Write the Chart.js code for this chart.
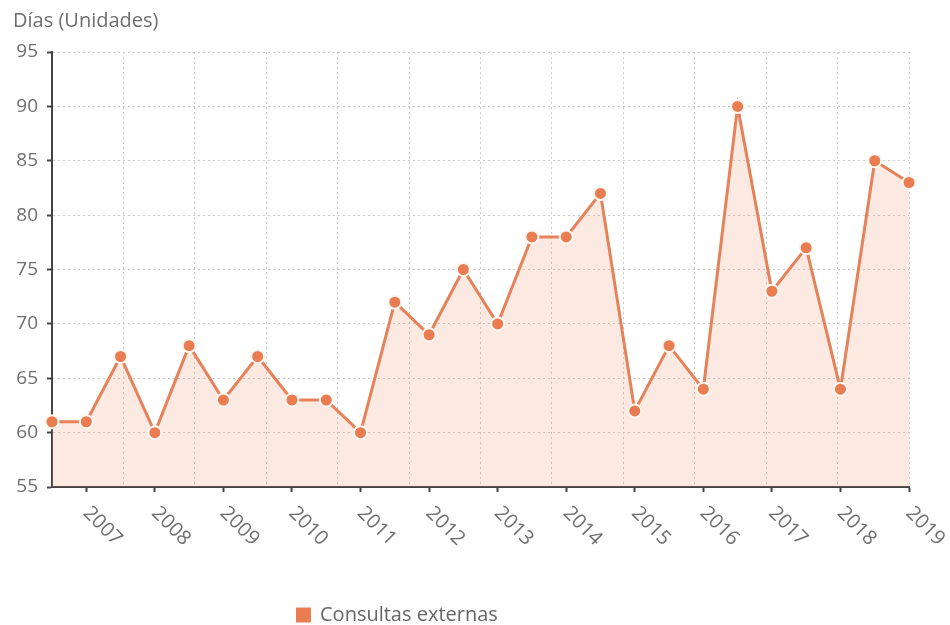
<!DOCTYPE html>
<html>
<head>
<meta charset="utf-8">
<script src="https://cdn.jsdelivr.net/npm/chart.js@4.4.1/dist/chart.umd.min.js"></script>
<style>
  html, body { margin: 0; padding: 0; background: #ffffff; }
  #wrap { width: 950px; height: 625px; position: relative; }
</style>
</head>
<body>
<div id="wrap"><canvas id="c" width="950" height="625"></canvas></div>
<script>
// ---- Data ----
const categories = ['', '2007', '', '2008', '', '2009', '', '2010', '', '2011', '', '2012', '', '2013',
                    '', '2014', '', '2015', '', '2016', '', '2017', '', '2018', '', '2019'];
const seriesLabel = 'Consultas externas';
const seriesValues = [61, 61, 67, 60, 68, 63, 67, 63, 63, 60, 72, 69, 75, 70, 78, 78, 82, 62, 68, 64, 90, 73, 77, 64, 85, 83];
const yTitle = 'Días (Unidades)';
const yMin = 55, yMax = 95, yStep = 5;

const FONT = "'Open Sans', 'Noto Sans', sans-serif";
const TEXT_GRAY = '#6e6e6e';
const LINE_COLOR = '#e6825a';

// Draw rotated x labels (+45deg, going down-right from the tick)
const xLabelPlugin = {
  id: 'xLabels',
  afterDraw(chart) {
    const scale = chart.scales.x;
    const ctx = chart.ctx;
    ctx.save();
    ctx.font = '20px ' + FONT;
    ctx.fillStyle = TEXT_GRAY;
    ctx.textAlign = 'left';
    ctx.textBaseline = 'middle';
    scale.ticks.forEach((t, i) => {
      const lab = chart.data.labels[i];
      if (!lab) return;
      const x = scale.getPixelForTick(i);
      const y = scale.top + 23;
      ctx.save();
      ctx.translate(x, y);
      ctx.rotate(Math.PI / 4);
      ctx.fillText(lab, 0, 0);
      ctx.restore();
    });
    ctx.restore();
  }
};

// Legend drawn below the plot
const legendPlugin = {
  id: 'customLegend',
  afterDraw(chart) {
    const ctx = chart.ctx;
    const ds = chart.data.datasets[0];
    const cy = 615;
    const bx = 296;
    ctx.save();
    ctx.fillStyle = ds.pointBackgroundColor;
    ctx.fillRect(bx, cy - 7.5, 15, 15);
    ctx.font = '20px ' + FONT;
    ctx.fillStyle = '#666666';
    ctx.textAlign = 'left';
    ctx.textBaseline = 'middle';
    ctx.fillText(ds.label, bx + 24, cy);
    ctx.restore();
  }
};

new Chart(document.getElementById('c'), {
  type: 'line',
  data: {
    labels: categories,
    datasets: [{
      label: seriesLabel,
      data: seriesValues,
      borderColor: LINE_COLOR,
      borderWidth: 3,
      backgroundColor: 'rgba(240, 140, 100, 0.19)',
      fill: 'start',
      tension: 0,
      pointRadius: 6.5,
      pointHoverRadius: 6.5,
      pointBackgroundColor: '#ea7c52',
      pointBorderColor: '#fff6f0',
      pointBorderWidth: 2,
      clip: false
    }]
  },
  options: {
    responsive: false,
    animation: false,
    devicePixelRatio: 1,
    layout: { padding: { left: 13, right: 41, top: 0, bottom: 133 } },
    plugins: {
      legend: { display: false },
      tooltip: { enabled: false },
      title: {
        display: true,
        text: yTitle,
        align: 'start',
        color: TEXT_GRAY,
        font: { family: FONT, size: 20, weight: 'normal' },
        padding: { top: 9, bottom: 19 }
      }
    },
    scales: {
      x: {
        type: 'category',
        position: 'bottom',
        offset: false,
        ticks: { display: false },
        grid: {
          drawOnChartArea: false,
          drawTicks: true,
          tickLength: 5,
          tickWidth: 2,
          tickColor: (ctx) => (categories[ctx.index] ? '#444444' : 'rgba(0,0,0,0)')
        },
        border: { display: true, color: '#444444', width: 2 }
      },
      x2: {
        type: 'linear',
        position: 'bottom',
        min: 0,
        max: 12,
        ticks: { display: false, stepSize: 1 },
        grid: { color: '#cacaca', lineWidth: 1, drawTicks: false },
        border: { display: false, dash: [2, 3] }
      },
      y: {
        min: yMin,
        max: yMax,
        ticks: {
          stepSize: yStep,
          color: TEXT_GRAY,
          font: { family: FONT, size: 19 },
          padding: 9
        },
        afterFit: (s) => { s.width = 39; },
        grid: {
          color: '#cacaca',
          lineWidth: 1,
          tickLength: 5,
          tickColor: '#444444',
          tickWidth: 2,
          tickBorderDash: []
        },
        border: { display: true, color: '#444444', width: 2, dash: [2, 3] }
      }
    }
  },
  plugins: [xLabelPlugin, legendPlugin]
});
</script>
</body>
</html>
